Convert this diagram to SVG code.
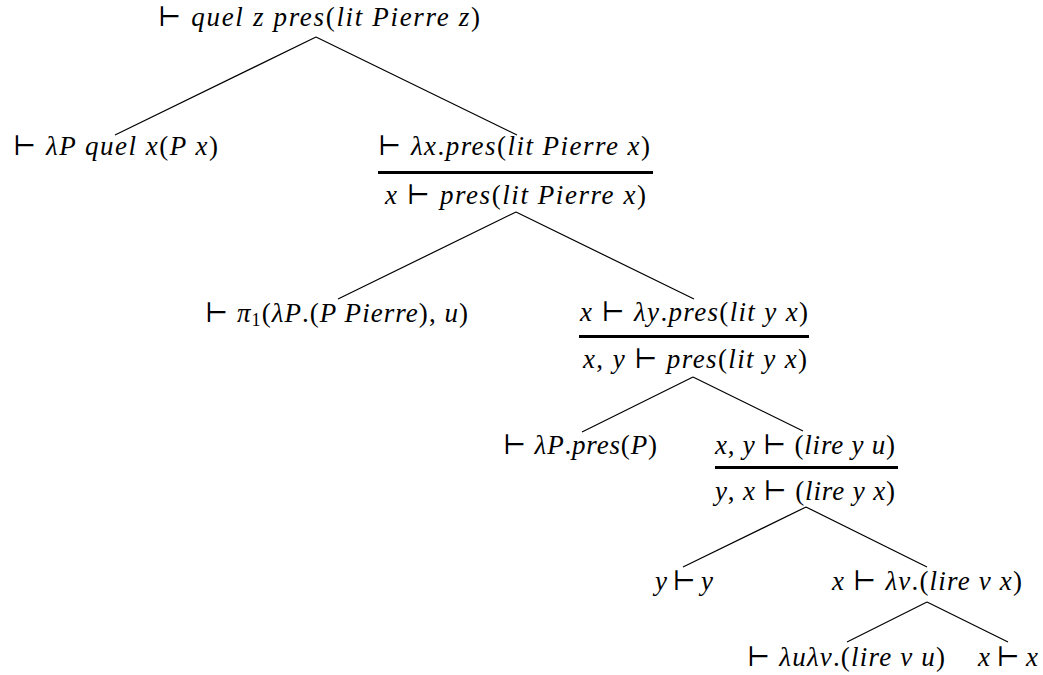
<svg xmlns="http://www.w3.org/2000/svg" width="1043" height="675" viewBox="0 0 1043 675">
<style>
.t{font-family:"Liberation Serif","DejaVu Serif",serif;font-size:27px;font-style:italic;fill:#000}
.u{font-style:normal}
.e{stroke:#000;stroke-width:1.2;fill:none}
.bar{fill:#000}
</style>
<rect width="1043" height="675" fill="#fff"/>
<g id="connectors">
<path class="e" d="M316 37L115 135M316 37L517 135"/>
<path class="e" d="M516 212L338 299M516 212L694 299"/>
<path class="e" d="M693 377L582 432M693 377L803 431"/>
<path class="e" d="M806 507L683 567M806 507L927 567"/>
<path class="e" d="M927 602L847 642M927 602L1008 642"/>
</g>
<g id="n-root">
<text class="t" x="158" y="26" textLength="322" lengthAdjust="spacing"><tspan class="u">⊢ </tspan>quel z pres<tspan class="u">(</tspan>lit Pierre z<tspan class="u">)</tspan></text>
</g>
<g id="n-quel">
<text class="t" x="13" y="155" textLength="205" lengthAdjust="spacing"><tspan class="u">⊢ </tspan>λP quel x<tspan class="u">(</tspan>P x<tspan class="u">)</tspan></text>
</g>
<g id="n-lx">
<text class="t" x="378" y="155" textLength="272" lengthAdjust="spacing"><tspan class="u">⊢ </tspan>λx<tspan class="u">.</tspan>pres<tspan class="u">(</tspan>lit Pierre x<tspan class="u">)</tspan></text>
<rect class="bar" x="378" y="171" width="275" height="3"/>
<text class="t" x="385" y="204" textLength="261" lengthAdjust="spacing">x <tspan class="u">⊢ </tspan>pres<tspan class="u">(</tspan>lit Pierre x<tspan class="u">)</tspan></text>
</g>
<g id="n-pi">
<text class="t" x="205" y="322" textLength="263" lengthAdjust="spacing"><tspan class="u">⊢ </tspan>π<tspan class="u" font-size="18" dy="4">1</tspan><tspan class="u" dy="-4">(</tspan>λP<tspan class="u">.(</tspan>P Pierre<tspan class="u">), </tspan>u<tspan class="u">)</tspan></text>
</g>
<g id="n-ly">
<text class="t" x="580" y="321" textLength="228" lengthAdjust="spacing">x <tspan class="u">⊢ </tspan>λy<tspan class="u">.</tspan>pres<tspan class="u">(</tspan>lit y x<tspan class="u">)</tspan></text>
<rect class="bar" x="579" y="335" width="230" height="3"/>
<text class="t" x="583" y="368" textLength="224" lengthAdjust="spacing">x<tspan class="u">, </tspan>y <tspan class="u">⊢ </tspan>pres<tspan class="u">(</tspan>lit y x<tspan class="u">)</tspan></text>
</g>
<g id="n-pres">
<text class="t" x="503" y="454" textLength="154" lengthAdjust="spacing"><tspan class="u">⊢ </tspan>λP<tspan class="u">.</tspan>pres<tspan class="u">(</tspan>P<tspan class="u">)</tspan></text>
</g>
<g id="n-lire">
<text class="t" x="715" y="454" textLength="180" lengthAdjust="spacing">x<tspan class="u">, </tspan>y <tspan class="u">⊢ (</tspan>lire y u<tspan class="u">)</tspan></text>
<rect class="bar" x="715" y="466" width="183" height="3"/>
<text class="t" x="715" y="500" textLength="180" lengthAdjust="spacing">y<tspan class="u">, </tspan>x <tspan class="u">⊢ (</tspan>lire y x<tspan class="u">)</tspan></text>
</g>
<g id="n-yy">
<text class="t" x="655" y="590" textLength="58" lengthAdjust="spacing">y <tspan class="u">⊢ </tspan>y</text>
</g>
<g id="n-lv">
<text class="t" x="832" y="590" textLength="190" lengthAdjust="spacing">x <tspan class="u">⊢ </tspan>λv<tspan class="u">.(</tspan>lire v x<tspan class="u">)</tspan></text>
</g>
<g id="n-lulv">
<text class="t" x="747" y="666" textLength="198" lengthAdjust="spacing"><tspan class="u">⊢ </tspan>λuλv<tspan class="u">.(</tspan>lire v u<tspan class="u">)</tspan></text>
</g>
<g id="n-xx">
<text class="t" x="978" y="666" textLength="60" lengthAdjust="spacing">x <tspan class="u">⊢ </tspan>x</text>
</g>
</svg>
